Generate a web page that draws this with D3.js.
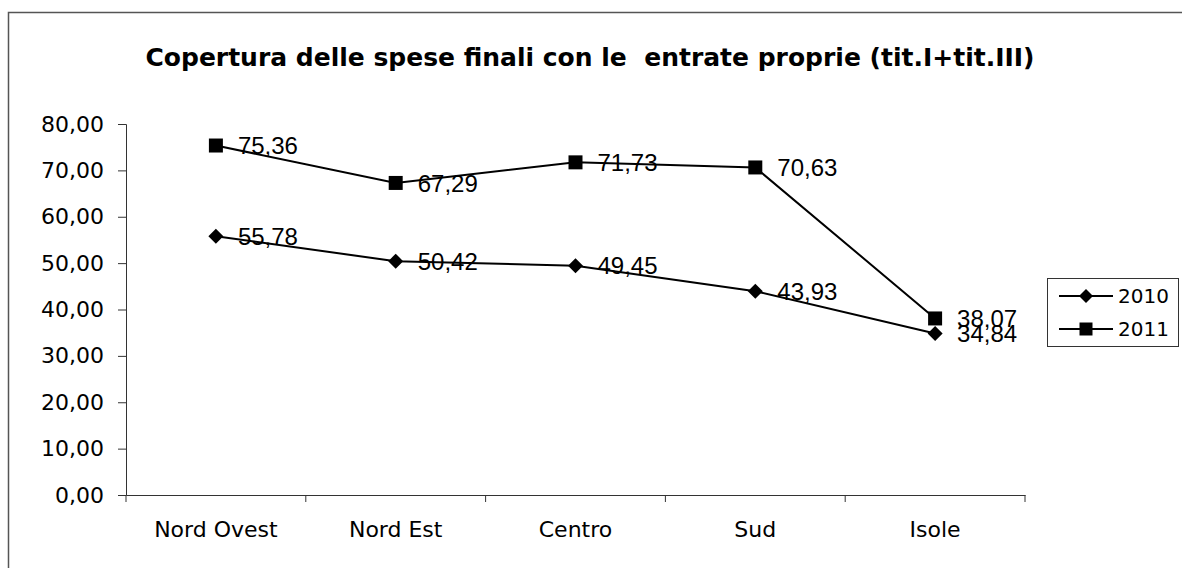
<!DOCTYPE html>
<html>
<head>
<meta charset="utf-8">
<script src="https://cdn.jsdelivr.net/npm/d3@7"></script>
<style>
  html, body { margin: 0; padding: 0; background: #fff; }
  svg { display: block; }
</style>
</head>
<body>
<svg id="chart" width="1182" height="568"></svg>
<script>
const categories = ["Nord Ovest", "Nord Est", "Centro", "Sud", "Isole"];
const values2010 = [55.78, 50.42, 49.45, 43.93, 34.84];
const values2011 = [75.36, 67.29, 71.73, 70.63, 38.07];
const seriesNames = ["2010", "2011"];
const yTicks = [0, 10, 20, 30, 40, 50, 60, 70, 80];
const title = "Copertura delle spese finali con le  entrate proprie (tit.I+tit.III)";

const svg = d3.select("#chart");
const W = 1182, H = 568;
const plot = { left: 126, right: 1025, top: 124, bottom: 495 };

// outer frame
svg.append("rect").attr("x", 8.5).attr("y", 12.5).attr("width", W + 20).attr("height", H + 20)
  .attr("fill", "none").attr("stroke", "#555").attr("stroke-width", 1.5);

// title
svg.append("text").attr("x", 590).attr("y", 66).attr("text-anchor", "middle")
  .attr("font-family", "DejaVu Sans, Verdana, sans-serif").attr("font-weight", "bold")
  .attr("font-size", 25).attr("fill", "#000")
  .style("white-space", "pre").text(title);

const x = d3.scaleBand().domain(categories).range([plot.left, plot.right]).padding(0);
const y = d3.scaleLinear().domain([0, 80]).range([plot.bottom, plot.top]);
const fmt = v => d3.format(".2f")(v).replace(".", ",");

// Y axis
const yAxis = d3.axisLeft(y).tickValues(yTicks).tickSize(8).tickPadding(14).tickFormat(fmt);
const gy = svg.append("g").attr("transform", `translate(${plot.left},0)`).call(yAxis);
gy.select(".domain").attr("stroke", "#333").attr("stroke-width", 1);
gy.selectAll(".tick line").attr("stroke", "#333");
gy.selectAll(".tick text").attr("font-family", "DejaVu Sans, Verdana, sans-serif")
  .attr("font-size", 22).attr("fill", "#000");

// X axis
const xAxis = d3.axisBottom(x).tickSize(0).tickPadding(26);
const gx = svg.append("g").attr("transform", `translate(0,${plot.bottom})`).call(xAxis);
gx.select(".domain").attr("stroke", "#333").attr("stroke-width", 1);
gx.selectAll(".tick text").attr("font-family", "DejaVu Sans, Verdana, sans-serif")
  .attr("font-size", 22).attr("fill", "#000").attr("dy", "0.71em");
// boundary ticks
const bounds = categories.map(c => x(c)).concat([x(categories[categories.length - 1]) + x.bandwidth()]);
svg.append("g").selectAll("line").data(bounds).join("line")
  .attr("x1", d => d).attr("x2", d => d)
  .attr("y1", plot.bottom).attr("y2", plot.bottom + 7)
  .attr("stroke", "#333");

const cx = c => x(c) + x.bandwidth() / 2;
const line = d3.line().x((d, i) => cx(categories[i])).y(d => y(d));

const diamond = r => `M0,${-r}L${r},0L0,${r}L${-r},0Z`;
const square = r => `M${-r},${-r}H${r}V${r}H${-r}Z`;

const series = [
  { name: seriesNames[0], values: values2010, shape: diamond(7.5) },
  { name: seriesNames[1], values: values2011, shape: square(7) }
];

series.forEach(s => {
  svg.append("path").datum(s.values).attr("d", line)
    .attr("fill", "none").attr("stroke", "#000").attr("stroke-width", 2);
  svg.append("g").selectAll("path").data(s.values).join("path")
    .attr("transform", (d, i) => `translate(${cx(categories[i])},${y(d)})`)
    .attr("d", s.shape).attr("fill", "#000");
  svg.append("g").selectAll("text").data(s.values).join("text")
    .attr("x", (d, i) => cx(categories[i]) + 22)
    .attr("y", d => y(d))
    .attr("dy", "0.36em")
    .attr("font-family", "Liberation Sans, Arial, sans-serif")
    .attr("font-size", 24).attr("fill", "#000")
    .text(d => fmt(d));
});

// Legend
const lg = svg.append("g");
lg.append("rect").attr("x", 1047.5).attr("y", 278.5).attr("width", 131).attr("height", 68)
  .attr("fill", "#fff").attr("stroke", "#333").attr("stroke-width", 1);
series.forEach((s, i) => {
  const ly = 296 + i * 33;
  lg.append("line").attr("x1", 1059).attr("x2", 1113).attr("y1", ly).attr("y2", ly)
    .attr("stroke", "#000").attr("stroke-width", 2);
  lg.append("path").attr("transform", `translate(1086,${ly})`)
    .attr("d", i === 0 ? diamond(7) : square(6.5)).attr("fill", "#000");
  lg.append("text").attr("x", 1118).attr("y", ly).attr("dy", "0.36em")
    .attr("font-family", "DejaVu Sans, Verdana, sans-serif").attr("font-size", 20)
    .attr("fill", "#000").text(s.name);
});
</script>
</body>
</html>
